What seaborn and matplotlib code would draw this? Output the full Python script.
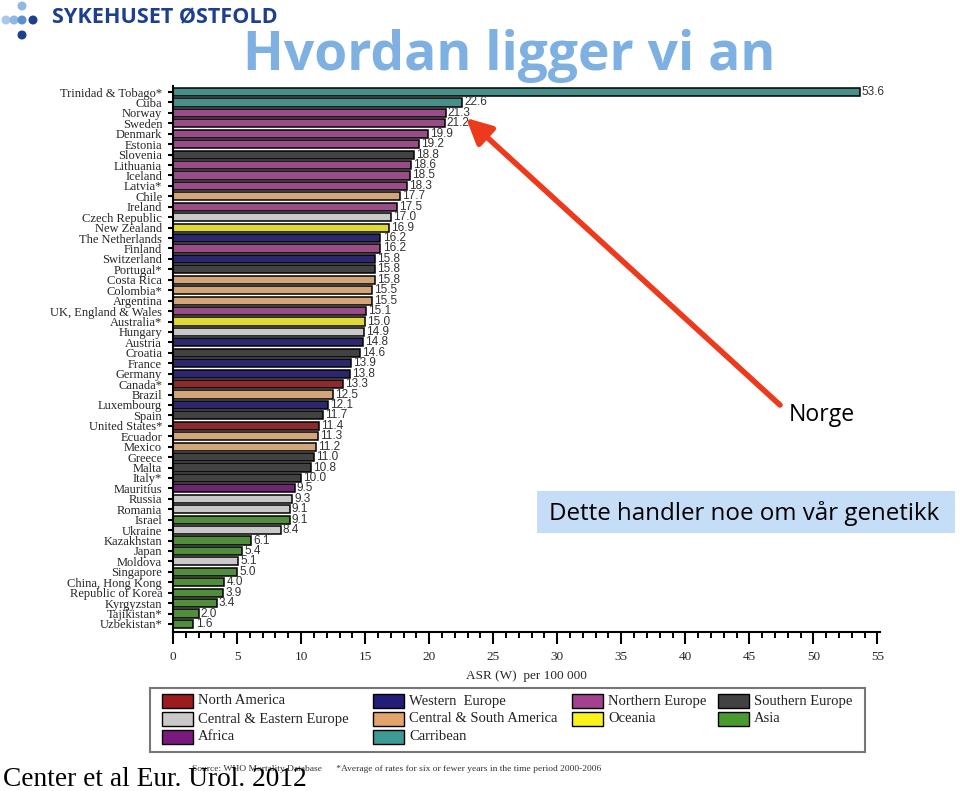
import matplotlib
matplotlib.use("Agg")
import matplotlib.pyplot as plt
from matplotlib.patches import Rectangle, Circle
from matplotlib.ticker import MultipleLocator
import seaborn as sns
import pandas as pd

countries = [
    "Trinidad & Tobago*", "Cuba", "Norway", "Sweden", "Denmark", "Estonia",
    "Slovenia", "Lithuania", "Iceland", "Latvia*", "Chile", "Ireland",
    "Czech Republic", "New Zealand", "The Netherlands", "Finland",
    "Switzerland", "Portugal*", "Costa Rica", "Colombia*", "Argentina",
    "UK, England & Wales", "Australia*", "Hungary", "Austria", "Croatia",
    "France", "Germany", "Canada*", "Brazil", "Luxembourg", "Spain",
    "United States*", "Ecuador", "Mexico", "Greece", "Malta", "Italy*",
    "Mauritius", "Russia", "Romania", "Israel", "Ukraine", "Kazakhstan",
    "Japan", "Moldova", "Singapore", "China, Hong Kong", "Republic of Korea",
    "Kyrgyzstan", "Tajikistan*", "Uzbekistan*",
]
values = [
    53.6, 22.6, 21.3, 21.2, 19.9, 19.2, 18.8, 18.6, 18.5, 18.3, 17.7, 17.5,
    17.0, 16.9, 16.2, 16.2, 15.8, 15.8, 15.8, 15.5, 15.5, 15.1, 15.0, 14.9,
    14.8, 14.6, 13.9, 13.8, 13.3, 12.5, 12.1, 11.7, 11.4, 11.3, 11.2, 11.0,
    10.8, 10.0, 9.5, 9.3, 9.1, 9.1, 8.4, 6.1, 5.4, 5.1, 5.0, 4.0, 3.9, 3.4,
    2.0, 1.6,
]
regions = [
    "Carribean", "Carribean", "Northern Europe", "Northern Europe",
    "Northern Europe", "Northern Europe", "Southern Europe", "Northern Europe",
    "Northern Europe", "Northern Europe", "Central & South America",
    "Northern Europe", "Central & Eastern Europe", "Oceania", "Western  Europe",
    "Northern Europe", "Western  Europe", "Southern Europe",
    "Central & South America", "Central & South America",
    "Central & South America", "Northern Europe", "Oceania",
    "Central & Eastern Europe", "Western  Europe", "Southern Europe",
    "Western  Europe", "Western  Europe", "North America",
    "Central & South America", "Western  Europe", "Southern Europe",
    "North America", "Central & South America", "Central & South America",
    "Southern Europe", "Southern Europe", "Southern Europe", "Africa",
    "Central & Eastern Europe", "Central & Eastern Europe", "Asia",
    "Central & Eastern Europe", "Asia", "Asia", "Central & Eastern Europe",
    "Asia", "Asia", "Asia", "Asia", "Asia", "Asia",
]

# legend entries, row by row as in the original
legend_rows = [
    ["North America", "Western  Europe", "Northern Europe", "Southern Europe"],
    ["Central & Eastern Europe", "Central & South America", "Oceania", "Asia"],
    ["Africa", "Carribean"],
]

region_colors = {
    "North America": "#9b1b1e",
    "Western  Europe": "#231d78",
    "Northern Europe": "#a4418e",
    "Southern Europe": "#424242",
    "Central & Eastern Europe": "#c9c9c9",
    "Central & South America": "#e2a46c",
    "Oceania": "#fbf21a",
    "Asia": "#4b9a30",
    "Africa": "#7b1a7e",
    "Carribean": "#3c9b94",
}

df = pd.DataFrame({"country": countries, "asr": values, "region": regions})

sns.set_theme(style="white")
plt.rcParams["font.family"] = ["Liberation Serif", "DejaVu Serif"]

W, H = 960, 791
fig = plt.figure(figsize=(W / 100, H / 100), dpi=100)
ax = fig.add_axes([173 / W, 159 / H, 707 / W, (705 - 159) / H])


def px(x, y):
    # pixel position from the top-left corner -> inches for dpi_scale_trans
    return x / 100, (H - y) / 100


sns.barplot(data=df, x="asr", y="country", hue="region", palette=region_colors,
            dodge=False, width=0.78, edgecolor="black", linewidth=1.1,
            legend=False, ax=ax)

for cont in ax.containers:
    ax.bar_label(cont, fmt="%.1f", padding=1.5, fontsize=8.5, color="#333333",
                 family="Liberation Sans")

ax.set_xlim(0, 55.2)
ax.set_ylim(51.77, -0.58)
ax.set_xticks(range(0, 56, 5))
ax.xaxis.set_minor_locator(MultipleLocator(1))
ax.set_ylabel("")
ax.set_xlabel("ASR (W)  per 100 000", fontsize=9.5, labelpad=5)
ax.tick_params(axis="x", which="major", direction="out", length=8.5, width=1.5,
               labelsize=9.5, pad=5, color="black", bottom=True)
ax.tick_params(axis="x", which="minor", direction="out", length=4.3, width=1.4,
               color="black", bottom=True)
ax.tick_params(axis="y", direction="out", length=3.8, width=1.5, labelsize=9,
               pad=4, color="black", left=True)
sns.despine(ax=ax)
for s in ["left", "bottom"]:
    ax.spines[s].set_linewidth(1.5)
    ax.spines[s].set_color("black")

# slide title and logo
fig.text(*px(509, 56), "Hvordan ligger vi an", transform=fig.dpi_scale_trans,
         ha="center", va="center", fontsize=38.4, color="#7eb0e2",
         family="Open Sans", fontweight="bold")
fig.text(*px(52, 18), "SYKEHUSET ØSTFOLD", transform=fig.dpi_scale_trans,
         ha="left", va="center", fontsize=15.6, color="#1d3f8f",
         family="Open Sans", fontweight="bold")
for (cx, cy, c) in [(22, 6, "#8fb8e6"), (6, 20, "#a9c8ec"), (14, 20, "#8fb8e6"),
                    (22, 20, "#5a8fd0"), (33, 20, "#1d3f8f"), (22, 35, "#1d3f8f")]:
    fig.patches.append(Circle(px(cx, cy), 0.038, color=c,
                              transform=fig.dpi_scale_trans))

# arrow pointing at Norway
ax.annotate("", xy=(466, H - 118), xycoords="figure pixels",
            xytext=(780, H - 405), textcoords="figure pixels",
            arrowprops=dict(arrowstyle="-|>", color="#ee3a1c", lw=4,
                            mutation_scale=38, shrinkA=0, shrinkB=0))
fig.text(*px(822, 415), "Norge", transform=fig.dpi_scale_trans, ha="center",
         va="center", fontsize=16.6, color="black", family="Open Sans")

fig.patches.append(Rectangle(px(537, 533), 4.18, 0.42, facecolor="#c6ddf7",
                             edgecolor="none", transform=fig.dpi_scale_trans))
fig.text(*px(549, 514), "Dette handler noe om vår genetikk",
         transform=fig.dpi_scale_trans, ha="left", va="center", fontsize=17.4,
         color="black", family="Open Sans")

# legend box
fig.patches.append(Rectangle(px(150, 752), 7.15, 0.64, facecolor="white",
                             edgecolor="#777777", lw=1.5,
                             transform=fig.dpi_scale_trans))
col_x = [162, 373, 572, 718]
row_y = [701, 719, 737]
for r, row in enumerate(legend_rows):
    for c, name in enumerate(row):
        x0, y0 = col_x[c], row_y[r]
        fig.patches.append(Rectangle(px(x0, y0 + 7), 0.31, 0.14,
                                     facecolor=region_colors[name],
                                     edgecolor="black", lw=1,
                                     transform=fig.dpi_scale_trans))
        fig.text(*px(x0 + 36, y0), name, transform=fig.dpi_scale_trans,
                 ha="left", va="center", fontsize=10.5, color="#222222")

fig.text(*px(192, 769), "Source: WHO Mortality Database      *Average of rates "
         "for six or fewer years in the time period 2000-2006",
         transform=fig.dpi_scale_trans, ha="left", va="center", fontsize=6.8,
         color="#333333")
fig.text(*px(3, 779), "Center et al Eur. Urol. 2012",
         transform=fig.dpi_scale_trans, ha="left", va="center", fontsize=19.7,
         color="black")

fig.savefig("out.png", dpi=100)
